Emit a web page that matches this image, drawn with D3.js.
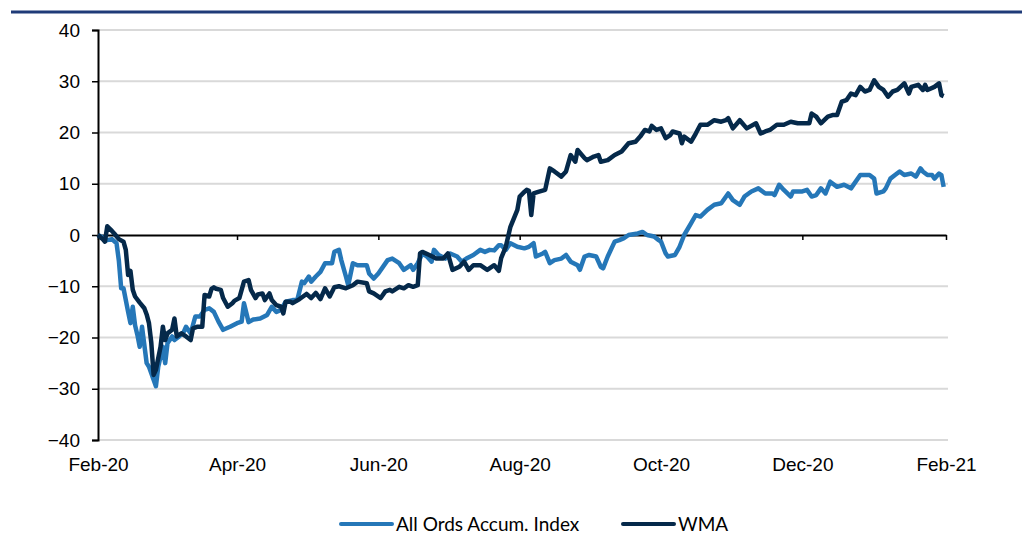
<!DOCTYPE html>
<html>
  <head>
    <meta charset="UTF-8">
    <style>
      body {
        margin: 0;
        background: #fff;
        font-family: Lato, "Noto Sans", sans-serif;
      }

      .tick text {
        font-size: 19px;
        fill: #000;
      }

      .legend text {
        font-size: 19px;
        fill: #000;
      }
    </style>
    <script src="https://d3js.org/d3.v7.min.js"></script>
  </head>

  <body>
    <svg id="chart"></svg>

    <script type="text/javascript">
      // All Ords Accum. Index, cumulative % change
      let ordsDates = [
        '2020-02-01','2020-02-03','2020-02-05','2020-02-07','2020-02-09','2020-02-10','2020-02-11','2020-02-12',
        '2020-02-14','2020-02-15','2020-02-16','2020-02-17','2020-02-18','2020-02-19','2020-02-20','2020-02-22',
        '2020-02-23','2020-02-26','2020-02-27','2020-02-29','2020-03-01','2020-03-02','2020-03-04','2020-03-05',
        '2020-03-07','2020-03-09','2020-03-10','2020-03-12','2020-03-14','2020-03-16','2020-03-18','2020-03-20',
        '2020-03-22','2020-03-24','2020-03-26','2020-03-29','2020-04-01','2020-04-03','2020-04-04','2020-04-06',
        '2020-04-08','2020-04-11','2020-04-14','2020-04-16','2020-04-18','2020-04-20','2020-04-22','2020-04-25',
        '2020-04-27','2020-04-29','2020-04-30','2020-05-02','2020-05-03','2020-05-05','2020-05-07','2020-05-09',
        '2020-05-12','2020-05-13','2020-05-15','2020-05-16','2020-05-18','2020-05-19','2020-05-21','2020-05-23',
        '2020-05-27','2020-05-28','2020-05-30','2020-06-01','2020-06-05','2020-06-07','2020-06-10','2020-06-12',
        '2020-06-15','2020-06-16','2020-06-18','2020-06-20','2020-06-22','2020-06-24','2020-06-25','2020-06-27',
        '2020-06-30','2020-07-02','2020-07-05','2020-07-07','2020-07-09','2020-07-12','2020-07-15','2020-07-17',
        '2020-07-19','2020-07-21','2020-07-23','2020-07-24','2020-07-26','2020-07-28','2020-07-31','2020-08-03',
        '2020-08-05','2020-08-07','2020-08-08','2020-08-11','2020-08-12','2020-08-14','2020-08-16','2020-08-19',
        '2020-08-21','2020-08-23','2020-08-26','2020-08-27','2020-08-29','2020-08-31','2020-09-03','2020-09-05',
        '2020-09-06','2020-09-08','2020-09-11','2020-09-13','2020-09-15','2020-09-17','2020-09-21','2020-09-23',
        '2020-09-25','2020-09-28','2020-09-30','2020-10-01','2020-10-03','2020-10-04','2020-10-07','2020-10-09',
        '2020-10-11','2020-10-14','2020-10-16','2020-10-18','2020-10-21','2020-10-24','2020-10-27','2020-10-30',
        '2020-11-01','2020-11-04','2020-11-06','2020-11-09','2020-11-12','2020-11-15','2020-11-18','2020-11-19',
        '2020-11-21','2020-11-23','2020-11-26','2020-11-27','2020-12-01','2020-12-03','2020-12-05','2020-12-07',
        '2020-12-09','2020-12-11','2020-12-13','2020-12-16','2020-12-19','2020-12-22','2020-12-26','2020-12-30',
        '2021-01-01','2021-01-02','2021-01-05','2021-01-06','2021-01-08','2021-01-10','2021-01-12','2021-01-14',
        '2021-01-17','2021-01-19','2021-01-21','2021-01-22','2021-01-24','2021-01-26','2021-01-27','2021-01-29',
        '2021-01-30','2021-01-31'
      ]
      let ordsValues = [
        0, -0.5, -1, -0.8, -1.6, -5, -10.4, -10.4,
        -15, -17.2, -14, -17.6, -19.5, -21.8, -17.9, -25,
        -25.7, -29.5, -25.7, -21.8, -25, -21.1, -19.8, -20.5,
        -19.8, -18.9, -17.9, -19.2, -15.9, -15.9, -14.6, -14.3,
        -15, -16.9, -18.5, -17.9, -17.2, -16.9, -13.3, -17,
        -16.5, -16.3, -15.6, -14, -15, -14.6, -13, -12.7,
        -12.7, -9.1, -9.4, -8.1, -9.1, -8.1, -7.2, -5.5,
        -5.5, -3.3, -2.9, -4.9, -8.1, -9.8, -5.5, -5.9,
        -5.9, -7.5, -8.5, -7.5, -4.9, -4.6, -5.5, -6.8,
        -5.9, -6.8, -5.5, -3.6, -4.2, -5.2, -2.9, -3.9,
        -4.6, -3.6, -4.2, -5.2, -4.6, -3.9, -2.9, -3.3,
        -2.9, -3, -2, -2, -2.9, -1.6, -2.3, -2.6,
        -2.3, -1.6, -4.2, -3.6, -3.3, -5.5, -4.9, -4.6,
        -3.9, -5.2, -5.9, -6.8, -4.2, -3.9, -4.2, -6.2,
        -6.5, -4.2, -1.3, -1, -0.6, 0, 0.3, 0.6,
        0, -0.3, -1, -1.3, -3.6, -4.2, -3.9, -2.3,
        0, 2.3, 3.9, 3.6, 4.9, 5.9, 6.2, 8.1,
        6.8, 5.9, 7.5, 8.5, 9.1, 8.1, 8.1, 7.8,
        9.8, 8.8, 7.5, 8.5, 8.5, 8.8, 7.5, 7.8,
        9.1, 8.1, 10.4, 9.4, 9.8, 9.1, 11.7, 11.7,
        11, 8.1, 8.5, 9.1, 11, 11.7, 12.4, 11.7,
        12, 11.4, 13, 12.4, 11.7, 11.7, 11, 12,
        11.7, 9.4
      ]

      // WMA, cumulative % change
      let wmaDates = [
        '2020-02-01','2020-02-03','2020-02-04','2020-02-05','2020-02-07','2020-02-08','2020-02-10','2020-02-12',
        '2020-02-13','2020-02-14','2020-02-15','2020-02-16','2020-02-17','2020-02-19','2020-02-21','2020-02-22',
        '2020-02-23','2020-02-24','2020-02-25','2020-02-26','2020-02-28','2020-02-29','2020-03-01','2020-03-02',
        '2020-03-04','2020-03-05','2020-03-06','2020-03-08','2020-03-10','2020-03-12','2020-03-13','2020-03-15',
        '2020-03-17','2020-03-18','2020-03-20','2020-03-21','2020-03-22','2020-03-23','2020-03-25','2020-03-26',
        '2020-03-28','2020-03-30','2020-03-31','2020-04-02','2020-04-04','2020-04-06','2020-04-07','2020-04-09',
        '2020-04-10','2020-04-12','2020-04-13','2020-04-15','2020-04-16','2020-04-18','2020-04-20','2020-04-21',
        '2020-04-22','2020-04-24','2020-04-25','2020-04-28','2020-05-01','2020-05-03','2020-05-05','2020-05-07',
        '2020-05-09','2020-05-11','2020-05-13','2020-05-15','2020-05-18','2020-05-21','2020-05-23','2020-05-27',
        '2020-05-28','2020-05-30','2020-06-02','2020-06-04','2020-06-06','2020-06-07','2020-06-10','2020-06-12',
        '2020-06-14','2020-06-16','2020-06-18','2020-06-19','2020-06-20','2020-06-23','2020-06-26','2020-06-29',
        '2020-07-01','2020-07-03','2020-07-06','2020-07-08','2020-07-10','2020-07-12','2020-07-15','2020-07-18',
        '2020-07-21','2020-07-23','2020-07-24','2020-07-26','2020-07-28','2020-07-31','2020-08-01','2020-08-03',
        '2020-08-04','2020-08-05','2020-08-06','2020-08-07','2020-08-09','2020-08-12','2020-08-14','2020-08-16',
        '2020-08-19','2020-08-21','2020-08-23','2020-08-25','2020-08-26','2020-08-29','2020-08-30','2020-09-02',
        '2020-09-04','2020-09-05','2020-09-08','2020-09-11','2020-09-14','2020-09-17','2020-09-20','2020-09-22',
        '2020-09-24','2020-09-26','2020-09-27','2020-09-29','2020-10-01','2020-10-03','2020-10-05','2020-10-06',
        '2020-10-09','2020-10-10','2020-10-11','2020-10-14','2020-10-16','2020-10-18','2020-10-21','2020-10-24',
        '2020-10-27','2020-10-29','2020-10-30','2020-11-01','2020-11-04','2020-11-07','2020-11-11','2020-11-13',
        '2020-11-15','2020-11-17','2020-11-20','2020-11-23','2020-11-26','2020-11-29','2020-12-04','2020-12-05',
        '2020-12-07','2020-12-09','2020-12-12','2020-12-14','2020-12-16','2020-12-18','2020-12-20','2020-12-22',
        '2020-12-24','2020-12-26','2020-12-28','2020-12-30','2021-01-01','2021-01-03','2021-01-05','2021-01-07',
        '2021-01-09','2021-01-11','2021-01-14','2021-01-16','2021-01-17','2021-01-20','2021-01-22','2021-01-23',
        '2021-01-24','2021-01-27','2021-01-29','2021-01-30','2021-01-31'
      ]
      let wmaValues = [
        0, -0.8, -1.3, 1.7, 0.8, 0.3, -0.8, -1.3,
        -2.9, -7.8, -7, -10.7, -12, -13.2, -14.3, -15.5,
        -17.2, -21, -27.3, -26.3, -21.8, -17.9, -20.5, -19.2,
        -18.5, -16.3, -19.8, -19.2, -19.8, -20.5, -18.2, -17.9,
        -17.9, -11.7, -12, -10.5, -10.2, -10.5, -10.7, -12.3,
        -14, -13.3, -12.8, -12.3, -9.1, -8.8, -10.7, -12.3,
        -11.6, -11.4, -12.7, -11.4, -12.7, -13.7, -14, -15.3,
        -13, -13, -13.3, -12.5, -11.5, -12.3, -11.3, -12.5,
        -10.4, -12, -10.2, -10, -10.4, -9.8, -9.1, -9.4,
        -11, -11.4, -12.3, -11, -10.7, -11, -10.1, -10.4,
        -9.8, -10.1, -9.8, -3.6, -3.3, -3.9, -4.6, -4.6,
        -3.6, -6.8, -6.2, -5.2, -6.8, -5.9, -5.9, -6.8,
        -5.9, -7, -4.5, -2.3, 1.6, 4.9, 7.5, 8.4,
        8.8, 8.6, 3.9, 8.1, 8.4, 8.8, 13, 12.4,
        11.4, 12.4, 15.6, 14.3, 16.6, 15, 14.6, 15.3,
        15.6, 14.3, 14.6, 15.6, 16.3, 17.9, 18.2, 19.2,
        20.5, 20.2, 21.3, 20.5, 20.8, 18.9, 19.5, 20.2,
        19.8, 17.9, 19.2, 18.2, 19.8, 21.5, 21.5, 22.4,
        22.1, 22.4, 22.8, 20.8, 22.4, 20.8, 21.8, 19.8,
        20.2, 20.5, 21.5, 21.5, 22.1, 21.8, 21.8, 23.7,
        23.1, 21.8, 23.1, 23.4, 23.4, 26, 26.3, 27.6,
        27.3, 28.9, 28, 28.3, 30.2, 28.9, 28.3, 27,
        28, 28.3, 29.6, 27.6, 28.9, 29.3, 28.3, 29.3,
        28.3, 28.9, 29.6, 27.3, 27.1
      ]

      let yTicks = [-40, -30, -20, -10, 0, 10, 20, 30, 40]
      let xTicks = ['2020-02-01', '2020-04-01', '2020-06-01', '2020-08-01', '2020-10-01', '2020-12-01', '2021-02-01']

      let seriesNames = ['All Ords Accum. Index', 'WMA']
      let seriesColors = ['#2577b8', '#05294a']

      let parseDate = d3.timeParse('%Y-%m-%d')

      function buildSeries(dates, values) {
        return dates.map((d, i) => ({date: parseDate(d), value: values[i]}))
      }

      function getConfig() {
        let width = 1022
        let height = 538
        let margin = {top: 30, bottom: 98, left: 98, right: 76}
        let bodyWidth = width - margin.left - margin.right
        let bodyHeight = height - margin.top - margin.bottom

        let container = d3.select('#chart')
          .attr('width', width)
          .attr('height', height)

        return {width, height, margin, bodyWidth, bodyHeight, container}
      }

      function getScales(config) {
        let {bodyWidth, bodyHeight} = config
        let xScale = d3.scaleTime()
          .domain([parseDate(xTicks[0]), parseDate(xTicks[xTicks.length - 1])])
          .range([0, bodyWidth])
        let yScale = d3.scaleLinear()
          .domain([yTicks[0], yTicks[yTicks.length - 1]])
          .range([bodyHeight, 0])
        return {xScale, yScale}
      }

      function drawFrame(config) {
        // navy rule across the top of the page
        config.container.append('line')
          .attr('x1', 11)
          .attr('x2', config.width)
          .attr('y1', 12)
          .attr('y2', 12)
          .attr('stroke', '#1f3b78')
          .attr('stroke-width', 3)
      }

      function drawAxes(scales, config) {
        let {xScale, yScale} = scales
        let {container, margin, bodyWidth, bodyHeight} = config
        let tickDates = xTicks.map(parseDate)

        let body = container.append('g')
          .attr('transform', `translate(${margin.left}, ${margin.top})`)

        // gridlines
        body.append('g')
          .selectAll('line')
          .data(yTicks.filter(d => d !== 0))
          .enter()
          .append('line')
          .attr('x1', 0)
          .attr('x2', bodyWidth + 2)
          .attr('y1', d => yScale(d))
          .attr('y2', d => yScale(d))
          .attr('stroke', '#d9d9d9')
          .attr('stroke-width', 2)

        // y axis
        let axisY = d3.axisLeft(yScale)
          .tickValues(yTicks)
          .tickSize(6)
          .tickPadding(12)
        let gy = body.append('g').call(axisY)
        gy.select('.domain').attr('stroke', '#000').attr('stroke-width', 2)
        gy.selectAll('.tick line').attr('stroke', '#000').attr('stroke-width', 1.5)

        // x axis line at zero with downward ticks
        let axisZero = d3.axisBottom(xScale)
          .tickValues(tickDates)
          .tickSize(5)
          .tickSizeOuter(0)
          .tickFormat('')
        let gz = body.append('g')
          .attr('transform', `translate(0, ${yScale(0)})`)
          .call(axisZero)
        gz.select('.domain').attr('stroke', '#000').attr('stroke-width', 2)
        gz.selectAll('.tick line').attr('stroke', '#000').attr('stroke-width', 1.5)

        // x labels along the bottom
        let axisLabels = d3.axisBottom(xScale)
          .tickValues(tickDates)
          .tickSize(0)
          .tickPadding(18)
          .tickFormat(d3.timeFormat('%b-%y'))
        let gl = body.append('g')
          .attr('transform', `translate(0, ${bodyHeight})`)
          .call(axisLabels)
        gl.select('.domain').remove()

        return body
      }

      function drawLines(body, scales) {
        let {xScale, yScale} = scales
        let line = d3.line()
          .x(d => xScale(d.date))
          .y(d => yScale(d.value))

        let allSeries = [
          buildSeries(ordsDates, ordsValues),
          buildSeries(wmaDates, wmaValues)
        ]

        body.selectAll('.series')
          .data(allSeries)
          .enter()
          .append('path')
          .attr('class', 'series')
          .attr('d', line)
          .attr('fill', 'none')
          .attr('stroke', (d, i) => seriesColors[i])
          .attr('stroke-width', 4.5)
          .attr('stroke-linejoin', 'round')
      }

      function drawLegend(config) {
        let {container} = config
        let positions = [340, 622]

        let legend = container.selectAll('.legend')
          .data(seriesNames)
          .enter()
          .append('g')
          .attr('class', 'legend')
          .attr('transform', (d, i) => `translate(${positions[i]}, 524)`)

        legend.append('line')
          .attr('x1', 1)
          .attr('x2', 52)
          .attr('stroke', (d, i) => seriesColors[i])
          .attr('stroke-width', 4)
          .attr('stroke-linecap', 'round')

        legend.append('text')
          .text(d => d)
          .attr('x', 56)
          .attr('dy', '0.35em')
      }

      let config = getConfig()
      let scales = getScales(config)
      drawFrame(config)
      let body = drawAxes(scales, config)
      drawLines(body, scales)
      drawLegend(config)
    </script>
  </body>
</html>
